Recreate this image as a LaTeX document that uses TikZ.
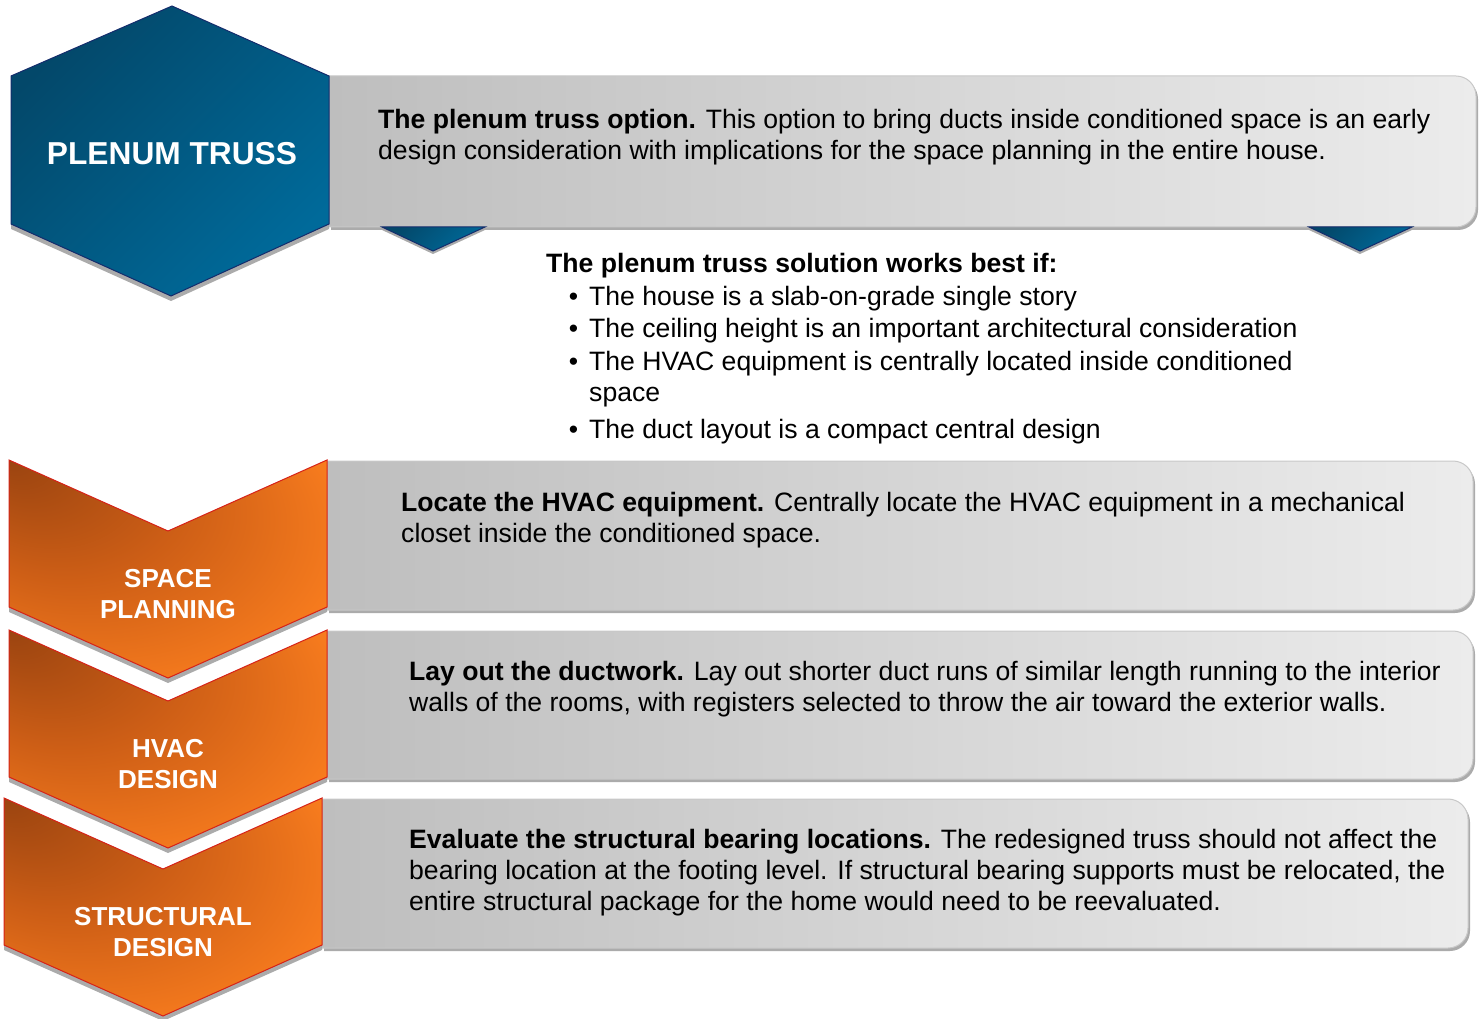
\documentclass[tikz,border=0pt]{standalone}
\usepackage{fontspec}
\setmainfont{Liberation Sans}
\usetikzlibrary{positioning}

\definecolor{hexdark}{RGB}{3,72,106}
\definecolor{hexlight}{RGB}{0,106,154}
\definecolor{hexline}{RGB}{20,44,108}
\definecolor{chevdark}{RGB}{155,68,16}
\definecolor{chevmid}{RGB}{205,94,22}
\definecolor{chevlight}{RGB}{248,124,30}
\definecolor{chevline}{RGB}{214,34,24}
\definecolor{boxleft}{RGB}{190,190,190}
\definecolor{boxright}{RGB}{236,236,236}
\definecolor{boxline}{RGB}{200,200,200}
\definecolor{shadowgray}{RGB}{150,150,150}

% orange glow, darkest in the top left corner
\pgfdeclareradialshading{chevglow}{\pgfpoint{-25bp}{25bp}}{color(0bp)=(chevdark); color(18bp)=(chevmid); color(36bp)=(chevlight); color(50bp)=(chevlight)}

% shapes, in pixel units (y grows downwards)
\newcommand{\hexpath}{(172,6) -- (329,76) -- (329,224) -- (171,296) -- (11,224) -- (11,76) -- cycle}
\newcommand{\chevpath}[2]{(#1,#2) -- ++(159,71) -- ++(159,-71) -- ++(0,147) -- ++(-159,71) -- ++(-159,-71) -- cycle}
\newcommand{\notepath}[4]{(#1,#2) -- (#3-20,#2) .. controls (#3-9,#2) and (#3,#2+9) .. (#3,#2+20) -- (#3,#4-20) .. controls (#3,#4-9) and (#3-9,#4) .. (#3-20,#4) -- (#1,#4) -- cycle}

\begin{document}
\begin{tikzpicture}[x=1pt, y=-1pt,
    hexshape/.style={top color=hexdark, bottom color=hexlight, shading angle=45, draw=hexline, line width=1pt},
    chevshape/.style={shading=chevglow, draw=chevline, line width=1pt},
    notebox/.style={left color=boxleft, right color=boxright, draw=boxline, line width=1pt},
    softshadow/.style={fill=shadowgray, opacity=0.8},
    steplabel/.style={anchor=base, align=center, text=white, font=\bfseries\fontsize{26}{31}\selectfont},
    notetext/.style={anchor=base west, align=left, inner xsep=0pt, font=\fontsize{26.6}{31}\selectfont}]
  \useasboundingbox (0,0) rectangle (1483,1019);

  % grey note boxes
  \foreach \x/\y/\r/\b in {329/76/1476/227, 327/461/1473/610, 327/631/1473/779, 322/799/1468/948} {
    \fill[softshadow, xshift=2pt, yshift=-3pt] \notepath{\x}{\y}{\r}{\b};
    \shade[notebox] \notepath{\x}{\y}{\r}{\b};
  }

  % little blue tabs under the first box
  \foreach \x in {382, 1309} {
    \fill[softshadow, yshift=-3pt] (\x,227) -- ++(103,0) -- ++(-52,24) -- cycle;
    \shade[hexshape] (\x,227) -- ++(103,0) -- ++(-52,24) -- cycle;
  }

  % plenum truss hexagon
  \fill[softshadow, yshift=-5pt] \hexpath;
  \shade[hexshape] \hexpath;
  \node[anchor=base, text=white, font=\bfseries\fontsize{31.7}{38}\selectfont] (plenum) at (172,165) {PLENUM TRUSS};

  % step chevrons (label anchored on its last line)
  \foreach \x/\y/\nm/\txt in {9/460/space/{SPACE\\PLANNING}, 9/630/hvac/{HVAC\\DESIGN}, 4/798/struct/{STRUCTURAL\\DESIGN}} {
    \fill[softshadow, yshift=-5pt] \chevpath{\x}{\y};
    \shade[chevshape] \chevpath{\x}{\y};
    \node[steplabel] (\nm) at (\x+159,\y+158) {\txt};
  }

  % box texts
  \node[notetext] (option) at (378,160) {\textbf{The plenum truss option.} This option to bring ducts inside conditioned space is an early\\design consideration with implications for the space planning in the entire house.};
  \node[notetext] (locate) at (401,542) {\textbf{Locate the HVAC equipment.} Centrally locate the HVAC equipment in a mechanical\\closet inside the conditioned space.};
  \node[notetext] (layout) at (409,711) {\textbf{Lay out the ductwork.} Lay out shorter duct runs of similar length running to the interior\\walls of the rooms, with registers selected to throw the air toward the exterior walls.};
  \node[notetext] (bearing) at (409,910) {\textbf{Evaluate the structural bearing locations.} The redesigned truss should not affect the\\bearing location at the footing level. If structural bearing supports must be relocated, the\\entire structural package for the home would need to be reevaluated.};

  % works best if
  \node[notetext] (bestif) at (546,272) {\textbf{The plenum truss solution works best if:}};
  \foreach \i/\y/\txt in {1/305/{The house is a slab-on-grade single story}, 2/337/{The ceiling height is an important architectural consideration}, 3/401/{The HVAC equipment is centrally located inside conditioned\\space}, 4/438/{The duct layout is a compact central design}}
    \node[notetext] (item\i) at (589,\y) {\llap{\textbullet\hspace{11pt}}\txt};
\end{tikzpicture}
\end{document}
